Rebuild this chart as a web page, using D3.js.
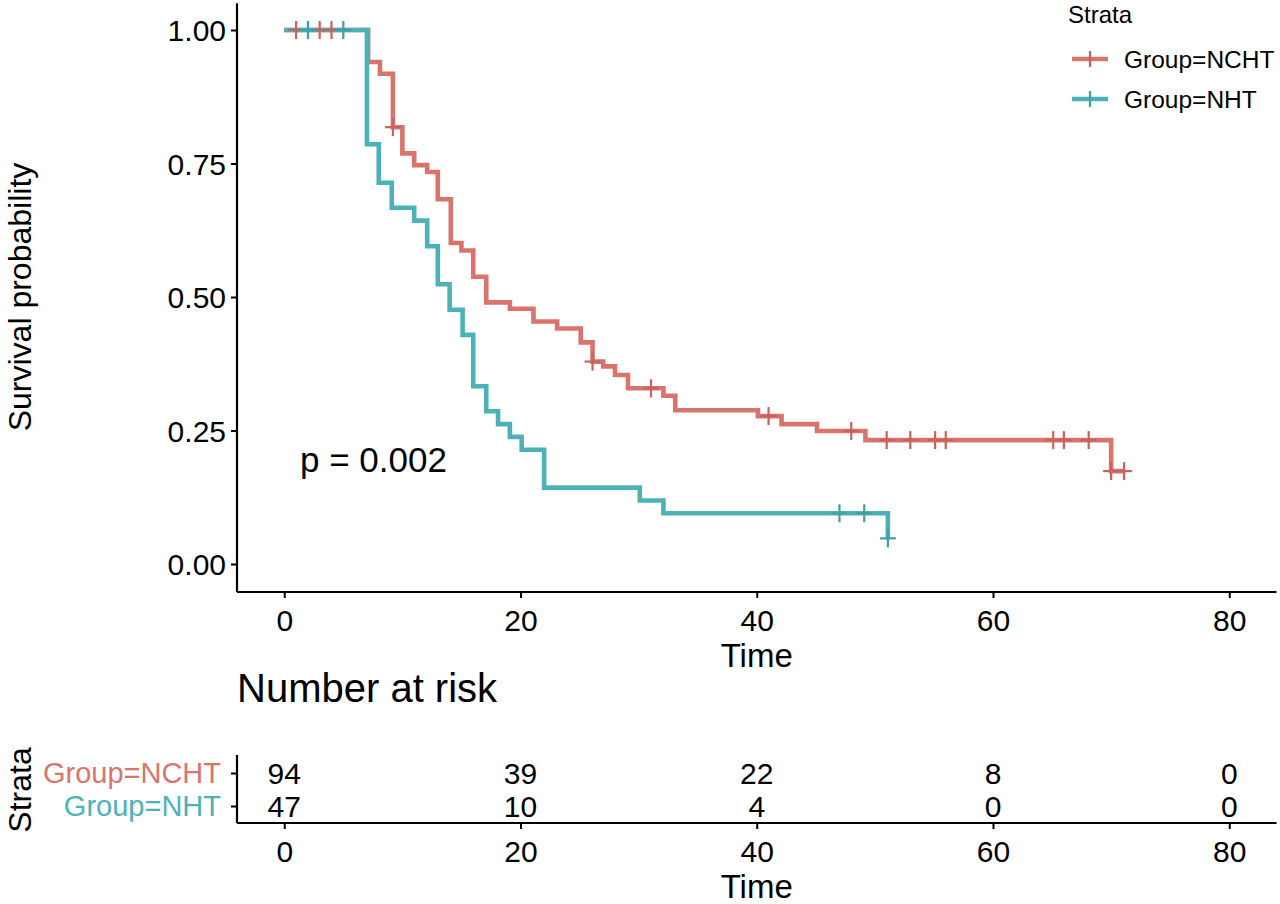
<!DOCTYPE html>
<html>
<head>
<meta charset="utf-8">
<script src="https://cdn.jsdelivr.net/npm/d3@7"></script>
<style>
  html, body { margin: 0; padding: 0; background: #ffffff; }
  svg { display: block; }
  text { font-family: "Liberation Sans", Arial, Helvetica, sans-serif; }
</style>
</head>
<body>
<svg id="chart" width="1280" height="904"></svg>
<script>
// ---------------- data ----------------
const strata = ["Group=NCHT", "Group=NHT"];
const strataColors = ["#D9746C", "#4DB2B7"];
const censorColors = ["#C9625B", "#3F9FA4"];

// Group=NCHT step curve (time, survival)
const nchtTime = [0, 7.1, 8.1, 9.2, 10, 11, 12.1, 13, 14.1, 15, 16, 17.1, 19.1, 21.1, 23.1, 25.1, 26.1, 27, 28, 29.1, 32.1, 33.1, 40.1, 42.1, 45.1, 49.2, 70, 71.1];
const nchtSurv = [1, 0.94, 0.918, 0.818, 0.769, 0.747, 0.734, 0.683, 0.601, 0.587, 0.538, 0.49, 0.478, 0.454, 0.441, 0.415, 0.379, 0.37, 0.354, 0.329, 0.315, 0.288, 0.277, 0.262, 0.249, 0.232, 0.174, 0.174];
const nchtCensor = [1, 3, 4, 9.2, 26.1, 31.05, 41, 48, 51, 53, 55.1, 56, 65.1, 66, 68.1, 70, 71.1];

// Group=NHT step curve
const nhtTime = [0, 7, 8, 9.1, 11, 12.1, 13, 14, 15.1, 16, 17.1, 18.1, 19.1, 20.1, 22, 30.1, 32.1, 51.1];
const nhtSurv = [1, 0.786, 0.714, 0.667, 0.643, 0.595, 0.524, 0.476, 0.429, 0.333, 0.286, 0.262, 0.238, 0.214, 0.143, 0.119, 0.095, 0.048];
const nhtCensor = [2, 5, 47, 49.1, 51.1];

// axes
const xTicks = [0, 20, 40, 60, 80];
const yTicks = [0, 0.25, 0.5, 0.75, 1];
const yTickLabels = ["0.00", "0.25", "0.50", "0.75", "1.00"];

// number at risk table
const riskTimes = [0, 20, 40, 60, 80];
const riskNCHT = [94, 39, 22, 8, 0];
const riskNHT = [47, 10, 4, 0, 0];

const pValueText = "p = 0.002";

// ---------------- drawing ----------------
const svg = d3.select("#chart");

const x = d3.scaleLinear().domain([-4, 84]).range([237, 1276.5]);
const y = d3.scaleLinear().domain([-0.05, 1.05]).range([590.7, 3.3]);

const curves = [
  { time: nchtTime, surv: nchtSurv, cens: nchtCensor },
  { time: nhtTime, surv: nhtSurv, cens: nhtCensor }
];

function survAt(c, t) {
  let v = 1;
  for (let i = 0; i < c.time.length; i++) {
    if (c.time[i] <= t + 1e-9) v = c.surv[i];
  }
  return v;
}

// axes (main)
const yAxis = d3.axisLeft(y).tickValues(yTicks).tickFormat((d, i) => yTickLabels[i]).tickSize(6).tickPadding(5);
const gy = svg.append("g").attr("transform", "translate(237,0)").call(yAxis);
const xAxis = d3.axisBottom(x).tickValues(xTicks).tickSize(6).tickPadding(6);
const gx = svg.append("g").attr("transform", "translate(0,592)").call(xAxis);

[gx, gy].forEach(g => {
  g.select(".domain").attr("stroke", "#000").attr("stroke-width", 2.2);
  g.selectAll(".tick line").attr("stroke", "#000").attr("stroke-width", 2);
  g.selectAll(".tick text").attr("fill", "#000").style("font-size", "30px")
    .style("font-family", '"Liberation Sans", Arial, sans-serif');
});
gy.select(".domain").attr("d", "M0,3.3V592");
gx.select(".domain").attr("d", "M237,0H1276.5");
gy.selectAll(".tick text").attr("dy", "0.35em");
gx.selectAll(".tick text").attr("dy", "0.9em");

// step lines
const line = d3.line()
  .x(d => x(d[0]))
  .y(d => y(d[1]))
  .curve(d3.curveStepAfter);

curves.forEach((c, i) => {
  const pts = c.time.map((t, k) => [t, c.surv[k]]);
  svg.append("path")
    .attr("d", line(pts))
    .attr("fill", "none")
    .attr("stroke", strataColors[i])
    .attr("stroke-width", 4.6)
    .attr("stroke-linejoin", "miter");
});

// censor marks
curves.forEach((c, i) => {
  const g = svg.append("g");
  c.cens.forEach(t => {
    const cx = x(t), cy = y(survAt(c, t));
    g.append("line").attr("x1", cx).attr("x2", cx).attr("y1", cy - 9).attr("y2", cy + 9)
      .attr("stroke", censorColors[i]).attr("stroke-width", 2.2);
    g.append("line").attr("x1", cx - 8).attr("x2", cx + 8).attr("y1", cy).attr("y2", cy)
      .attr("stroke", censorColors[i]).attr("stroke-width", 2.2);
  });
});

// p-value
svg.append("text").attr("x", 300).attr("y", 472).text(pValueText)
  .style("font-size", "35px").attr("fill", "#000");

// axis titles
svg.append("text").attr("transform", "translate(31,297) rotate(-90)")
  .attr("text-anchor", "middle").style("font-size", "32px").text("Survival probability");
svg.append("text").attr("x", x(40)).attr("y", 667)
  .attr("text-anchor", "middle").style("font-size", "33px").text("Time");

// legend
const lg = svg.append("g");
lg.append("text").attr("x", 1068).attr("y", 23).style("font-size", "24px").text("Strata");
strata.forEach((s, i) => {
  const ly = 59 + i * 40;
  lg.append("line").attr("x1", 1072).attr("x2", 1108).attr("y1", ly).attr("y2", ly)
    .attr("stroke", strataColors[i]).attr("stroke-width", 4.6);
  lg.append("line").attr("x1", 1090).attr("x2", 1090).attr("y1", ly - 8).attr("y2", ly + 8)
    .attr("stroke", censorColors[i]).attr("stroke-width", 2.2);
  lg.append("text").attr("x", 1124).attr("y", ly + 9).style("font-size", "24.5px").text(s);
});

// ---------------- risk table ----------------
svg.append("text").attr("x", 237).attr("y", 702).style("font-size", "40px").text("Number at risk");

const yr = d3.scalePoint().domain(strata).range([773, 806]);
const yrAxis = d3.axisLeft(yr).tickSize(6).tickFormat("");
const gyr = svg.append("g").attr("transform", "translate(237,0)").call(yrAxis);
gyr.select(".domain").attr("d", "M0,755V823").attr("stroke", "#000").attr("stroke-width", 2.2);
gyr.selectAll(".tick line").attr("stroke", "#000").attr("stroke-width", 2);

const gxr = svg.append("g").attr("transform", "translate(0,823)").call(xAxis);
gxr.select(".domain").attr("d", "M237,0H1276.5").attr("stroke", "#000").attr("stroke-width", 2.2);
gxr.selectAll(".tick line").attr("stroke", "#000").attr("stroke-width", 2);
gxr.selectAll(".tick text").attr("fill", "#000").style("font-size", "30px").attr("dy", "0.9em")
  .style("font-family", '"Liberation Sans", Arial, sans-serif');

// strata labels
strata.forEach((s, i) => {
  svg.append("text").attr("x", 221).attr("y", yr(s)).attr("dy", "0.36em")
    .attr("text-anchor", "end").style("font-size", "29px").attr("fill", strataColors[i]).text(s);
});

// numbers
const riskRows = [riskNCHT, riskNHT];
riskRows.forEach((row, i) => {
  row.forEach((n, k) => {
    svg.append("text").attr("x", x(riskTimes[k])).attr("y", yr(strata[i])).attr("dy", "0.36em")
      .attr("text-anchor", "middle").style("font-size", "30px").attr("fill", "#000").text(n);
  });
});

svg.append("text").attr("transform", "translate(31,790) rotate(-90)")
  .attr("text-anchor", "middle").style("font-size", "32px").text("Strata");
svg.append("text").attr("x", x(40)).attr("y", 898)
  .attr("text-anchor", "middle").style("font-size", "33px").text("Time");
</script>
</body>
</html>
